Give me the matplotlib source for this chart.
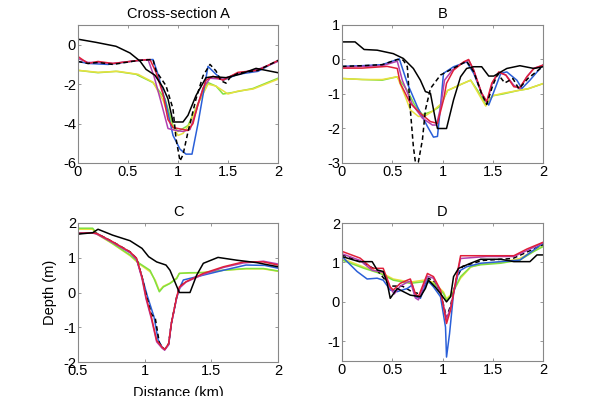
import matplotlib
matplotlib.use("Agg")
import matplotlib.pyplot as plt

plt.rcParams['font.family'] = ['Liberation Sans', 'DejaVu Sans']

BLACK = '#000000'
BLUE = '#2a5fd8'
RED = '#e0203a'
MAGENTA = '#b040b0'
GREEN = '#80e040'
YELLOW = '#e8e040'

# ---- Cross-section A ----
a_black_x = [0, 0.18, 0.38, 0.52, 0.62, 0.68, 0.77, 0.85, 0.9, 0.95, 1.05, 1.1, 1.18, 1.28, 1.35, 1.48, 1.62, 1.78, 2.0]
a_black_y = [0.28, 0.12, -0.08, -0.42, -0.83, -1.25, -1.55, -2.17, -2.75, -3.92, -3.92, -3.58, -2.58, -1.67, -1.62, -1.67, -1.5, -1.2, -1.42]
a_dash_x = [0, 0.1, 0.2, 0.35, 0.6, 0.75, 0.78, 0.88, 0.95, 0.98, 1.02, 1.05, 1.1, 1.18, 1.25, 1.32, 1.38, 1.43, 1.48, 1.52, 1.6, 1.8, 2.0]
a_dash_y = [-0.85, -0.95, -0.9, -1.0, -0.8, -0.75, -1.33, -2.08, -3.25, -4.75, -5.9, -5.58, -4.42, -2.75, -1.58, -1.0, -1.33, -1.83, -1.95, -1.67, -1.45, -1.3, -0.8]
a_blue_x = [0, 0.1, 0.3, 0.6, 0.75, 0.8, 0.88, 0.95, 1.02, 1.08, 1.14, 1.2, 1.3, 1.38, 1.45, 1.6, 1.8, 2.0]
a_blue_y = [-0.85, -0.95, -1.0, -0.8, -0.75, -1.5, -3.0, -4.6, -5.3, -5.55, -5.55, -4.0, -1.1, -1.5, -1.8, -1.5, -1.35, -0.8]
a_red_x = [0, 0.1, 0.2, 0.35, 0.6, 0.72, 0.78, 0.85, 0.9, 0.95, 1.05, 1.1, 1.15, 1.2, 1.28, 1.35, 1.45, 1.6, 1.8, 2.0]
a_red_y = [-0.6, -0.95, -0.85, -0.95, -0.8, -0.75, -1.4, -2.5, -3.8, -4.2, -4.3, -4.35, -4.0, -3.0, -1.8, -1.6, -1.8, -1.4, -1.3, -0.8]
a_mag_x = [0, 0.1, 0.2, 0.35, 0.6, 0.7, 0.76, 0.83, 0.9, 0.98, 1.05, 1.12, 1.18, 1.25, 1.32, 1.45, 1.6, 1.8, 2.0]
a_mag_y = [-0.7, -0.9, -0.9, -0.95, -0.8, -0.75, -1.6, -2.9, -4.25, -4.35, -4.4, -4.3, -3.4, -2.2, -1.7, -1.75, -1.45, -1.25, -0.85]
a_yel_x = [0, 0.2, 0.4, 0.6, 0.75, 0.85, 0.93, 1.0, 1.05, 1.12, 1.2, 1.3, 1.38, 1.5, 1.6, 1.75, 2.0]
a_yel_y = [-1.3, -1.4, -1.35, -1.5, -1.9, -2.8, -4.0, -4.6, -4.5, -4.0, -3.0, -2.0, -2.1, -2.5, -2.35, -2.25, -1.75]
a_grn_x = [0, 0.2, 0.38, 0.58, 0.75, 0.87, 0.95, 1.0, 1.1, 1.2, 1.3, 1.38, 1.45, 1.55, 1.75, 2.0]
a_grn_y = [-1.3, -1.42, -1.35, -1.5, -1.92, -2.75, -4.1, -4.4, -4.1, -3.0, -1.92, -2.1, -2.5, -2.42, -2.22, -1.7]

# ---- B ----
b_black_x = [0, 0.13, 0.22, 0.35, 0.51, 0.61, 0.71, 0.78, 0.83, 0.88, 0.93, 0.95, 1.04, 1.11, 1.18, 1.24, 1.31, 1.39, 1.46, 1.51, 1.64, 1.77, 1.91, 2.0]
b_black_y = [0.51, 0.51, 0.29, 0.27, 0.17, 0.03, -0.26, -0.6, -0.93, -0.98, -1.75, -2.0, -2.0, -1.17, -0.5, -0.26, -0.21, -0.21, -0.48, -0.48, -0.26, -0.18, -0.26, -0.21]
b_dash_x = [0, 0.2, 0.4, 0.55, 0.61, 0.65, 0.68, 0.71, 0.73, 0.76, 0.8, 0.83, 0.88, 0.98, 1.04, 1.11, 1.24, 1.31, 1.39, 1.44, 1.5, 1.55, 1.62, 1.7, 1.76, 1.85, 2.0]
b_dash_y = [-0.2, -0.18, -0.15, 0.0, -0.02, -0.21, -1.46, -2.52, -2.97, -2.97, -2.33, -1.46, -0.84, -0.45, -0.36, -0.25, -0.05, -0.35, -1.0, -1.3, -0.75, -0.42, -0.68, -0.55, -0.85, -0.55, -0.2]
b_blue_x = [0, 0.2, 0.4, 0.57, 0.65, 0.75, 0.85, 0.91, 0.95, 0.98, 1.01, 1.11, 1.24, 1.31, 1.39, 1.46, 1.53, 1.58, 1.64, 1.74, 1.79, 1.87, 2.0]
b_blue_y = [-0.2, -0.18, -0.15, 0.02, -0.69, -1.37, -1.94, -2.25, -2.23, -1.37, -0.4, -0.21, -0.07, -0.4, -0.98, -1.32, -0.79, -0.4, -0.36, -0.6, -0.84, -0.6, -0.16]
b_red_x = [0, 0.2, 0.45, 0.55, 0.58, 0.68, 0.78, 0.88, 0.95, 1.01, 1.04, 1.11, 1.21, 1.26, 1.31, 1.39, 1.44, 1.49, 1.56, 1.63, 1.71, 1.77, 1.84, 1.91, 2.0]
b_red_y = [-0.25, -0.25, -0.2, -0.26, -0.69, -1.27, -1.56, -1.8, -1.85, -1.17, -0.69, -0.31, -0.07, 0.0, -0.31, -0.98, -1.22, -0.69, -0.36, -0.45, -0.79, -0.81, -0.5, -0.26, -0.16]
b_mag_x = [0, 0.2, 0.4, 0.55, 0.6, 0.7, 0.8, 0.9, 0.94, 0.98, 1.02, 1.1, 1.2, 1.26, 1.31, 1.39, 1.44, 1.5, 1.56, 1.63, 1.71, 1.77, 1.84, 1.91, 2.0]
b_mag_y = [-0.22, -0.2, -0.18, -0.05, -0.6, -1.3, -1.7, -1.9, -1.9, -1.4, -0.6, -0.3, -0.1, -0.02, -0.3, -1.0, -1.25, -0.65, -0.38, -0.45, -0.75, -0.85, -0.5, -0.25, -0.18]
b_yel_x = [0, 0.2, 0.4, 0.55, 0.62, 0.68, 0.76, 0.82, 0.9, 0.98, 1.05, 1.2, 1.28, 1.35, 1.43, 1.5, 1.6, 1.75, 1.85, 2.0]
b_yel_y = [-0.55, -0.58, -0.58, -0.5, -1.0, -1.46, -1.65, -1.65, -1.5, -1.3, -0.9, -0.7, -0.6, -0.95, -1.35, -1.05, -0.98, -0.9, -0.85, -0.7]
b_grn_x = [0, 0.2, 0.4, 0.55, 0.65, 0.72, 0.8, 0.9, 0.98, 1.05, 1.2, 1.28, 1.35, 1.43, 1.5, 1.6, 1.75, 1.85, 2.0]
b_grn_y = [-0.55, -0.58, -0.6, -0.5, -0.9, -1.3, -1.6, -1.5, -1.35, -0.9, -0.7, -0.6, -0.9, -1.3, -1.05, -1.0, -0.9, -0.85, -0.7]

# ---- C ----
c_black_x = [0.5, 0.61, 0.65, 0.76, 0.89, 0.98, 1.03, 1.09, 1.16, 1.19, 1.26, 1.34, 1.39, 1.44, 1.55, 1.69, 1.84, 2.0]
c_black_y = [1.68, 1.72, 1.82, 1.65, 1.49, 1.27, 1.03, 0.88, 0.79, 0.64, 0.0, 0.0, 0.5, 0.84, 1.01, 0.93, 0.86, 0.74]
c_red_x = [0.5, 0.6, 0.64, 0.76, 0.89, 0.94, 0.98, 1.01, 1.05, 1.09, 1.13, 1.15, 1.18, 1.2, 1.24, 1.26, 1.31, 1.44, 1.59, 1.74, 1.89, 2.0]
c_red_y = [1.7, 1.72, 1.7, 1.46, 1.17, 0.98, 0.45, -0.13, -0.7, -1.38, -1.57, -1.64, -1.47, -0.89, -0.13, 0.16, 0.31, 0.55, 0.74, 0.88, 0.88, 0.79]
c_mag_x = [0.5, 0.6, 0.64, 0.76, 0.89, 0.94, 0.98, 1.01, 1.05, 1.09, 1.13, 1.15, 1.18, 1.2, 1.24, 1.26, 1.31, 1.44, 1.59, 1.74, 1.89, 2.0]
c_mag_y = [1.7, 1.72, 1.68, 1.44, 1.15, 0.95, 0.4, -0.18, -0.75, -1.42, -1.6, -1.66, -1.5, -0.9, -0.15, 0.12, 0.3, 0.52, 0.72, 0.85, 0.9, 0.82]
c_blue_x = [0.5, 0.6, 0.64, 0.76, 0.89, 0.94, 0.98, 1.02, 1.07, 1.1, 1.13, 1.15, 1.18, 1.2, 1.24, 1.27, 1.29, 1.44, 1.59, 1.76, 1.9, 2.0]
c_blue_y = [1.7, 1.72, 1.7, 1.45, 1.15, 0.95, 0.45, -0.1, -0.7, -1.35, -1.57, -1.64, -1.5, -0.9, -0.15, 0.2, 0.36, 0.5, 0.64, 0.79, 0.78, 0.7]
c_dash_x = [0.5, 0.6, 0.64, 0.76, 0.89, 0.94, 0.98, 1.01, 1.05, 1.08, 1.11, 1.13, 1.15, 1.18, 1.2, 1.24, 1.26, 1.31]
c_dash_y = [1.7, 1.72, 1.7, 1.46, 1.17, 0.98, 0.45, -0.05, -0.62, -0.75, -1.45, -1.57, -1.64, -1.47, -0.89, -0.13, 0.16, 0.31]
c_yel_x = [0.5, 0.61, 0.64, 0.76, 0.89, 0.96, 1.04, 1.08, 1.11, 1.14, 1.19, 1.24, 1.26, 1.34, 1.44, 1.59, 1.76, 1.89, 2.0]
c_yel_y = [1.82, 1.82, 1.68, 1.4, 1.06, 0.82, 0.6, 0.35, 0.05, 0.18, 0.27, 0.42, 0.55, 0.56, 0.58, 0.64, 0.68, 0.68, 0.61]
c_grn_x = [0.5, 0.61, 0.64, 0.76, 0.89, 0.96, 1.04, 1.07, 1.11, 1.14, 1.19, 1.24, 1.26, 1.34, 1.44, 1.59, 1.76, 1.89, 2.0]
c_grn_y = [1.85, 1.85, 1.7, 1.41, 1.08, 0.84, 0.64, 0.4, 0.02, 0.16, 0.26, 0.4, 0.55, 0.57, 0.57, 0.64, 0.69, 0.69, 0.62]

# ---- D ----
d_black_x = [0, 0.17, 0.3, 0.35, 0.41, 0.45, 0.48, 0.55, 0.61, 0.68, 0.78, 0.83, 0.86, 0.93, 0.98, 1.04, 1.08, 1.11, 1.16, 1.28, 1.38, 1.58, 1.71, 1.87, 1.94, 2.0]
d_black_y = [1.15, 1.02, 1.02, 0.81, 0.77, 0.47, 0.09, 0.34, 0.26, 0.17, 0.13, 0.34, 0.55, 0.37, 0.21, 0.0, 0.13, 0.64, 0.85, 0.98, 1.08, 1.08, 1.02, 1.02, 1.19, 1.19]
d_blue_x = [0, 0.15, 0.25, 0.35, 0.41, 0.48, 0.55, 0.65, 0.7, 0.73, 0.78, 0.85, 0.91, 0.98, 1.03, 1.04, 1.07, 1.11, 1.16, 1.24, 1.38, 1.58, 1.77, 1.91, 2.0]
d_blue_y = [1.15, 0.77, 0.58, 0.6, 0.55, 0.3, 0.26, 0.34, 0.43, 0.13, 0.09, 0.55, 0.38, 0.13, -0.64, -1.4, -0.81, 0.21, 0.77, 0.89, 0.98, 1.02, 1.06, 1.32, 1.49]
d_red_x = [0, 0.18, 0.3, 0.35, 0.41, 0.48, 0.51, 0.58, 0.65, 0.68, 0.73, 0.76, 0.85, 0.91, 0.98, 1.04, 1.08, 1.14, 1.18, 1.44, 1.71, 1.84, 2.0]
d_red_y = [1.28, 1.11, 0.85, 0.85, 0.85, 0.38, 0.3, 0.47, 0.55, 0.58, 0.21, 0.13, 0.72, 0.64, 0.3, -0.55, -0.21, 0.64, 1.17, 1.17, 1.17, 1.34, 1.51]
d_mag_x = [0, 0.18, 0.3, 0.35, 0.41, 0.48, 0.52, 0.58, 0.65, 0.68, 0.73, 0.76, 0.85, 0.91, 0.98, 1.04, 1.08, 1.14, 1.18, 1.44, 1.71, 1.84, 2.0]
d_mag_y = [1.22, 1.05, 0.8, 0.78, 0.75, 0.35, 0.2, 0.4, 0.5, 0.52, 0.1, 0.05, 0.65, 0.6, 0.25, -0.45, -0.15, 0.6, 1.1, 1.15, 1.15, 1.3, 1.5]
d_dash_x = [0, 0.2, 0.35, 0.48, 0.6, 0.7, 0.78, 0.86, 0.93, 0.98, 1.04, 1.08, 1.14, 1.2, 1.4, 1.7, 2.0]
d_dash_y = [1.2, 1.0, 0.8, 0.4, 0.4, 0.25, 0.2, 0.6, 0.5, 0.25, -0.4, -0.1, 0.6, 0.9, 1.05, 1.1, 1.45]
d_yel_x = [0, 0.22, 0.38, 0.51, 0.68, 0.81, 0.91, 1.01, 1.04, 1.09, 1.18, 1.28, 1.38, 1.58, 1.77, 1.91, 2.0]
d_yel_y = [1.1, 0.88, 0.75, 0.58, 0.5, 0.55, 0.5, 0.25, 0.08, 0.2, 0.6, 0.88, 0.96, 1.0, 1.1, 1.3, 1.45]
d_grn_x = [0, 0.22, 0.38, 0.51, 0.68, 0.81, 0.91, 1.01, 1.04, 1.09, 1.18, 1.28, 1.38, 1.58, 1.77, 1.91, 2.0]
d_grn_y = [1.06, 0.85, 0.72, 0.55, 0.47, 0.51, 0.47, 0.21, 0.04, 0.17, 0.64, 0.89, 0.94, 0.98, 1.06, 1.28, 1.4]

panels = [
    dict(title='Cross-section A', xlim=(0, 2), ylim=(-6, 1),
         xticks=[0, 0.5, 1, 1.5, 2], yticks=[-6, -4, -2, 0],
         lines=[(a_grn_x, a_grn_y, GREEN, '-'), (a_yel_x, a_yel_y, YELLOW, '-'),
                (a_blue_x, a_blue_y, BLUE, '-'), (a_mag_x, a_mag_y, MAGENTA, '-'),
                (a_red_x, a_red_y, RED, '-'), (a_black_x, a_black_y, BLACK, '-'),
                (a_dash_x, a_dash_y, BLACK, '--')]),
    dict(title='B', xlim=(0, 2), ylim=(-3, 1),
         xticks=[0, 0.5, 1, 1.5, 2], yticks=[-3, -2, -1, 0, 1],
         lines=[(b_grn_x, b_grn_y, GREEN, '-'), (b_yel_x, b_yel_y, YELLOW, '-'),
                (b_blue_x, b_blue_y, BLUE, '-'), (b_mag_x, b_mag_y, MAGENTA, '-'),
                (b_red_x, b_red_y, RED, '-'), (b_black_x, b_black_y, BLACK, '-'),
                (b_dash_x, b_dash_y, BLACK, '--')]),
    dict(title='C', xlim=(0.5, 2), ylim=(-2, 2),
         xticks=[0.5, 1, 1.5, 2], yticks=[-2, -1, 0, 1, 2],
         lines=[(c_yel_x, c_yel_y, YELLOW, '-'), (c_grn_x, c_grn_y, GREEN, '-'),
                (c_blue_x, c_blue_y, BLUE, '-'), (c_dash_x, c_dash_y, BLACK, '--'),
                (c_mag_x, c_mag_y, MAGENTA, '-'), (c_red_x, c_red_y, RED, '-'),
                (c_black_x, c_black_y, BLACK, '-')]),
    dict(title='D', xlim=(0, 2), ylim=(-1.5, 2),
         xticks=[0, 0.5, 1, 1.5, 2], yticks=[-1, 0, 1, 2],
         lines=[(d_yel_x, d_yel_y, YELLOW, '-'), (d_grn_x, d_grn_y, GREEN, '-'),
                (d_dash_x, d_dash_y, BLACK, '--'), (d_blue_x, d_blue_y, BLUE, '-'),
                (d_mag_x, d_mag_y, MAGENTA, '-'), (d_red_x, d_red_y, RED, '-'),
                (d_black_x, d_black_y, BLACK, '-')]),
]

# axes boxes in pixels (left, top, right, bottom) of a 600x396 figure
boxes = [(78, 25, 278, 163), (342, 25, 543, 163), (78, 223, 278, 362), (342, 223, 543, 361)]

fig = plt.figure(figsize=(6, 3.96), dpi=100)
for p, (l, t, r, b) in zip(panels, boxes):
    ax = fig.add_axes([l / 600, 1 - b / 396, (r - l) / 600, (b - t) / 396])
    for xs, ys, c, ls in p['lines']:
        if ls == '--':
            ax.plot(xs, ys, color=c, linewidth=1.1, dashes=(3, 2))
        else:
            ax.plot(xs, ys, color=c, linewidth=1.1)
    ax.set_xlim(*p['xlim'])
    ax.set_ylim(*p['ylim'])
    ax.set_xticks(p['xticks'])
    ax.set_yticks(p['yticks'])
    ax.set_xticklabels([('%g' % v) for v in p['xticks']])
    ax.set_yticklabels([('%g' % v) for v in p['yticks']])
    ax.tick_params(direction='in', length=2, width=0.6, color='#888888',
                   labelsize=10.5, pad=1.5, top=True, right=True)
    for s in ax.spines.values():
        s.set_color('#888888')
        s.set_linewidth(0.8)
    ax.set_title(p['title'], fontsize=10.5, pad=5)

fig.axes[2].set_ylabel('Depth (m)', fontsize=10.5, labelpad=4)
fig.axes[2].set_xlabel('Distance (km)', fontsize=10.5, labelpad=6)

fig.savefig('out.png', dpi=100)
